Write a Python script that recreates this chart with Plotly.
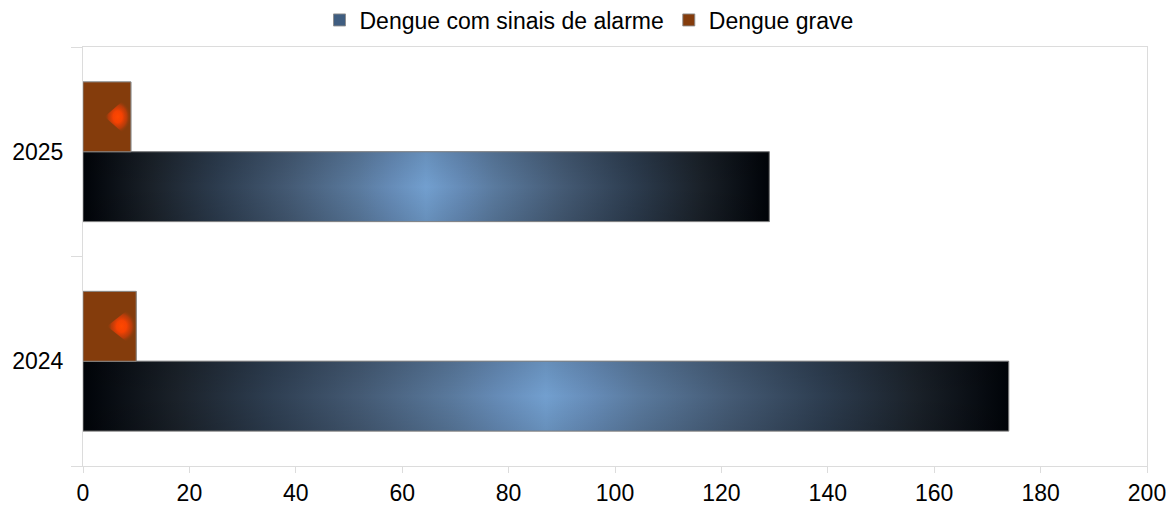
import plotly.graph_objects as go

categories = ["2024", "2025"]
series_names = ["Dengue com sinais de alarme", "Dengue grave"]
alarme = [174, 129]
grave = [10, 9]
x_ticks = [0, 20, 40, 60, 80, 100, 120, 140, 160, 180, 200]

FONT = "Liberation Sans, Arial, sans-serif"
FS = 23
blue_scale = [
    [0.0, "#000308"], [0.1, "#1a2129"], [0.2, "#2d3d50"], [0.3, "#445a74"],
    [0.4, "#5a7a9e"], [0.45, "#668cb8"], [0.5, "#729fcf"], [0.55, "#668cb8"],
    [0.6, "#5a7a9e"], [0.7, "#445a74"], [0.8, "#2d3d50"], [0.9, "#1a2129"],
    [1.0, "#000308"],
]
shade_scale = [[0, "rgba(0,0,0,0.1)"], [0.5, "rgba(0,0,0,0)"], [1, "rgba(0,0,0,0.1)"]]
glow_scale = [[0, "rgba(255,72,0,1)"], [0.35, "rgba(250,66,2,0.95)"],
              [0.7, "rgba(215,60,8,0.6)"], [1, "rgba(132,60,12,0)"]]
brown = "#843c0c"
bar_h = 1 / 3
outline = "rgba(140,140,140,0.9)"

fig = go.Figure()

# base bars (library-positioned) - also provide legend entries
fig.add_trace(go.Bar(y=list(range(len(categories))), x=alarme, orientation="h",
                     name=series_names[0], marker=dict(color="#3f5d80", line=dict(color=outline, width=1))))
fig.add_trace(go.Bar(y=list(range(len(categories))), x=grave, orientation="h",
                     name=series_names[1], marker=dict(color=brown, line=dict(color=outline, width=1))))

# gradient overlays matching bar geometry
for i, v in enumerate(alarme):
    y0, y1 = i - bar_h, i
    fig.add_trace(go.Scatter(
        x=[0, v, v, 0, 0], y=[y0, y0, y1, y1, y0], mode="lines", fill="toself",
        fillgradient=dict(type="horizontal", colorscale=blue_scale, start=0, stop=v),
        line=dict(color=outline, width=1), showlegend=False, hoverinfo="skip"))
    fig.add_trace(go.Scatter(
        x=[0, v, v, 0, 0], y=[y0, y0, y1, y1, y0], mode="lines", fill="toself",
        fillgradient=dict(type="vertical", colorscale=shade_scale, start=y0, stop=y1),
        line=dict(width=0), showlegend=False, hoverinfo="skip"))

for i, v in enumerate(grave):
    y0, y1 = i, i + bar_h
    fig.add_trace(go.Scatter(
        x=[0, v, v, 0, 0], y=[y0, y0, y1, y1, y0], mode="lines", fill="toself",
        fillcolor=brown, line=dict(color=outline, width=1), showlegend=False, hoverinfo="skip"))
    # glow highlight near bar end
    cy = (y0 + y1) / 2
    hh = 0.08
    fig.add_trace(go.Scatter(
        x=[0.45 * v, 0.85 * v, v, v, 0.85 * v, 0.45 * v],
        y=[cy, cy + hh, cy + hh * 0.6, cy - hh * 0.6, cy - hh, cy],
        mode="lines", fill="toself", line=dict(width=0),
        fillgradient=dict(type="radial", colorscale=glow_scale),
        showlegend=False, hoverinfo="skip"))

fig.update_layout(
    width=1175, height=507,
    margin=dict(l=83, r=28, t=47, b=41, autoexpand=False),
    paper_bgcolor="white", plot_bgcolor="white",
    barmode="group", bargap=1 / 3, bargroupgap=0,
    font=dict(family=FONT, size=FS, color="black"),
    showlegend=True,
    legend=dict(orientation="h", xref="container", x=589 / 1175, xanchor="center",
                yref="container", y=1 - 20 / 507, yanchor="middle",
                font=dict(family=FONT, size=FS, color="black"),
                itemwidth=30, tracegroupgap=0, bgcolor="rgba(0,0,0,0)"),
    xaxis=dict(range=[0, 200], tickvals=x_ticks, ticktext=[str(t) for t in x_ticks],
               showgrid=False, zeroline=False, showline=True, mirror=True, automargin=False,
               linecolor="#dcdcdc", linewidth=1, ticks="outside", ticklen=6,
               tickcolor="#dcdcdc", tickfont=dict(family=FONT, size=FS, color="black")),
    yaxis=dict(range=[-0.5, 1.5], tickvals=[0, 1], ticktext=categories, automargin=False,
               showgrid=False, zeroline=False, showline=True, mirror=True,
               linecolor="#dcdcdc", linewidth=1, ticks="outside", ticklen=14,
               tickcolor="rgba(0,0,0,0)", tickfont=dict(family=FONT, size=FS, color="black"),
               minor=dict(tickvals=[-0.5, 0.5, 1.5], ticks="outside", ticklen=11,
                          tickcolor="#dcdcdc", showgrid=False)),
)

fig.write_html("out.html")
